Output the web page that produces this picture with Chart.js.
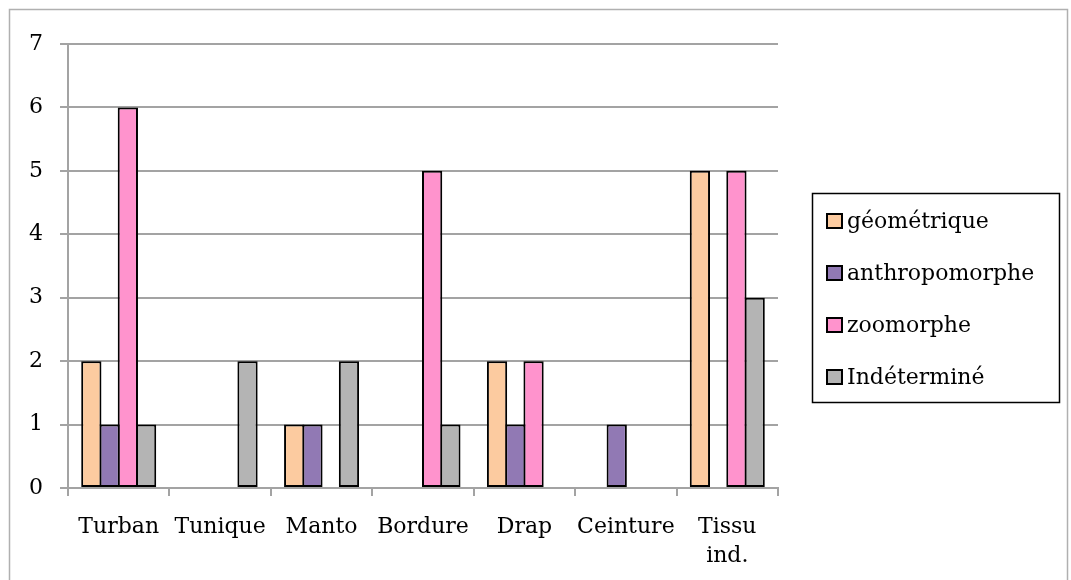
<!DOCTYPE html>
<html lang="fr">
<head>
<meta charset="UTF-8">
<title>Motifs par type de textile</title>
<script src="https://cdn.jsdelivr.net/npm/chart.js"></script>
<style>
  html, body { margin: 0; padding: 0; background: #fff; }
  #wrap { width: 1071px; height: 580px; position: relative; }
</style>
</head>
<body>
<div id="wrap"><canvas id="chart" width="1071" height="580"></canvas></div>
<script>
// data
const categories = ['Turban', 'Tunique', 'Manto', 'Bordure', 'Drap', 'Ceinture', ['Tissu', 'ind.']];
const geometrique    = [2, 0, 1, 0, 2, 0, 5];
const anthropomorphe = [1, 0, 1, 0, 1, 1, 0];
const zoomorphe      = [6, 0, 0, 5, 2, 0, 5];
const indetermine    = [1, 2, 2, 1, 0, 0, 3];
const seriesNames = ['géométrique', 'anthropomorphe', 'zoomorphe', 'Indéterminé'];
const seriesColors = ['#fccba0', '#9179b4', '#ff93cd', '#b4b4b4'];

const FONT = '"DejaVu Serif", "Liberation Serif", serif';
const gridColor = '#a3a3a3';

// frame around the whole chart + boxed legend on the right
const decorations = {
    id: 'decorations',
    afterDraw(chart) {
        const c = chart.ctx;
        c.save();
        c.strokeStyle = '#b0b0b0';
        c.lineWidth = 1.5;
        c.strokeRect(9.5, 9.5, 1058, 620);

        // legend box
        c.strokeStyle = '#000';
        c.lineWidth = 1.5;
        c.strokeRect(812.5, 193.5, 247, 209);
        c.font = '22px ' + FONT;
        c.textBaseline = 'middle';
        c.textAlign = 'left';
        chart.data.datasets.forEach((ds, i) => {
            const cy = 221 + i * 52;
            c.fillStyle = ds.backgroundColor;
            c.fillRect(827, cy - 7, 15, 14);
            c.strokeStyle = '#000';
            c.lineWidth = 2;
            c.strokeRect(827, cy - 7, 15, 14);
            c.fillStyle = '#000';
            c.fillText(ds.label, 847, cy + 1);
        });
        c.restore();
    }
};

const dataArrays = [geometrique, anthropomorphe, zoomorphe, indetermine];

new Chart(document.getElementById('chart').getContext('2d'), {
    type: 'bar',
    data: {
        labels: categories,
        datasets: dataArrays.map((d, i) => ({
            label: seriesNames[i],
            data: d,
            backgroundColor: seriesColors[i],
            borderColor: '#000',
            borderWidth: 2,
            borderSkipped: false,
            inflateAmount: 0,
            // bars overlap by one border so neighbours share a single line
            categoryPercentage: 0.72,
            barPercentage: 1.11
        }))
    },
    options: {
        responsive: false,
        animation: false,
        layout: { padding: { left: 0, top: 44, right: 293, bottom: 0 } },
        plugins: {
            legend: { display: false },
            tooltip: { enabled: false }
        },
        scales: {
            x: {
                grid: {
                    offset: true,
                    drawOnChartArea: false,
                    drawTicks: true,
                    tickLength: 8,
                    color: gridColor,
                    lineWidth: 2
                },
                border: { color: gridColor, width: 2 },
                ticks: {
                    color: '#000',
                    font: { family: FONT, size: 22, lineHeight: 1.35 },
                    padding: 16,
                    maxRotation: 0,
                    autoSkip: false
                },
                afterFit(s) { s.height = 92; }
            },
            y: {
                min: 0,
                max: 7,
                grid: {
                    color: gridColor,
                    lineWidth: 2,
                    tickLength: 8
                },
                border: { color: gridColor, width: 2 },
                ticks: {
                    stepSize: 1,
                    color: '#000',
                    font: { family: FONT, size: 22 },
                    padding: 17
                },
                afterFit(s) { s.width = 68; }
            }
        }
    },
    plugins: [decorations]
});
</script>
</body>
</html>
